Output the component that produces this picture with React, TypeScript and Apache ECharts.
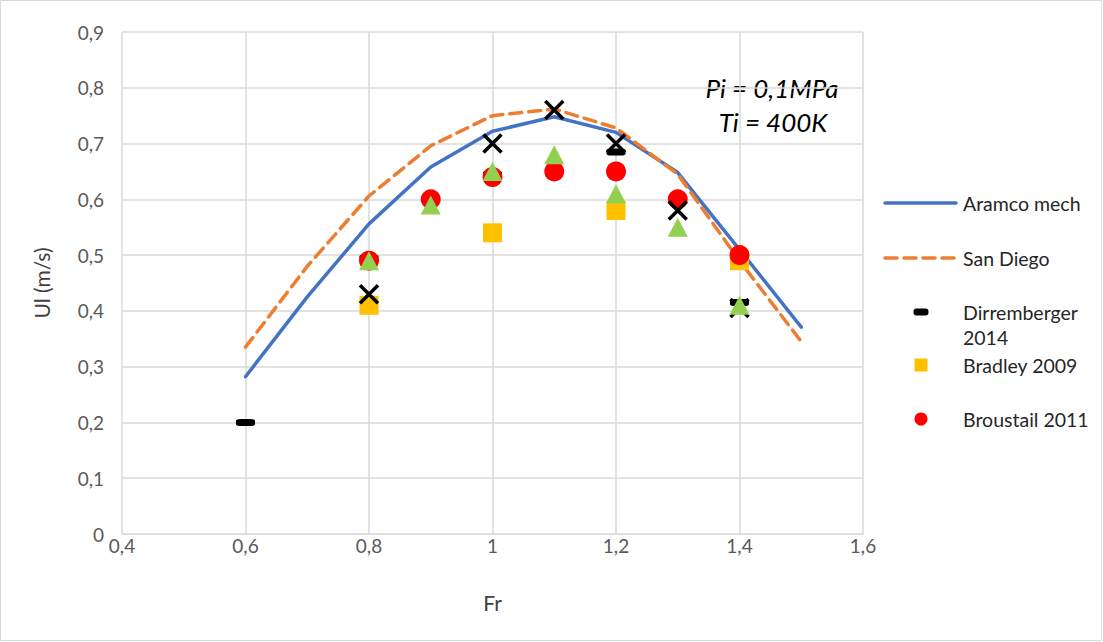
import React, { useEffect, useRef } from "react";
import * as echarts from "echarts";

const frLine = [0.6, 0.7, 0.8, 0.9, 1.0, 1.1, 1.2, 1.3, 1.4, 1.5];
const aramco = [0.282, 0.425, 0.556, 0.658, 0.722, 0.748, 0.72, 0.648, 0.51, 0.371];
const sanDiego = [0.335, 0.48, 0.606, 0.696, 0.75, 0.762, 0.728, 0.645, 0.49, 0.345];

const dirrFr = [0.6, 0.8, 1.0, 1.2, 1.4];
const dirrUl = [0.2, 0.495, 0.645, 0.685, 0.415];

const bradFr = [0.8, 1.0, 1.2, 1.4];
const bradUl = [0.41, 0.54, 0.58, 0.49];

const brouFr = [0.8, 0.9, 1.0, 1.1, 1.2, 1.3, 1.4];
const brouUl = [0.49, 0.6, 0.64, 0.65, 0.65, 0.6, 0.5];

const crossFr = [0.8, 1.0, 1.1, 1.2, 1.3, 1.4];
const crossUl = [0.43, 0.7, 0.76, 0.7, 0.58, 0.405];

const triFr = [0.8, 0.9, 1.0, 1.1, 1.2, 1.3, 1.4];
const triUl = [0.49, 0.59, 0.65, 0.68, 0.61, 0.55, 0.41];

const xTicks = { min: 0.4, max: 1.6, interval: 0.2 };
const yTicks = { min: 0, max: 0.9, interval: 0.1 };

const zip = (a: number[], b: number[]) => a.map((v, i) => [v, b[i]]);
const fmt = (v: number) => String(+v.toFixed(1)).replace(".", ",");

const FONT = "Lato";
const GRID = "#D9D9D9";

export default function App() {
  const ref = useRef<HTMLDivElement>(null);
  useEffect(() => {
    document.body.style.margin = "0";
    const chart = echarts.init(ref.current!, null, { renderer: "svg" });
    const legendX = 885;
    const legendMark = 921;
    const legendText = 963;
    const legendY = [203, 258, 312, 365, 419];
    const legendFont = { fontFamily: FONT, fontSize: 19.5, fill: "#262626", verticalAlign: "middle" };
    chart.setOption({
      animation: false,
      grid: { left: 122, right: 240, top: 32, bottom: 108 },
      xAxis: {
        type: "value",
        ...xTicks,
        name: "Fr",
        nameLocation: "middle",
        nameGap: 58,
        nameTextStyle: { fontFamily: FONT, fontSize: 21, color: "#404040" },
        axisLine: { show: true, lineStyle: { color: GRID, width: 1 } },
        axisTick: { show: false },
        axisLabel: { formatter: fmt, fontFamily: FONT, fontSize: 19, color: "#595959", margin: 2 },
        splitLine: { show: true, lineStyle: { color: GRID, width: 1.5 } },
      },
      yAxis: {
        type: "value",
        ...yTicks,
        name: "Ul (m/s)",
        nameLocation: "middle",
        nameGap: 70,
        nameRotate: 90,
        nameTextStyle: { fontFamily: FONT, fontSize: 21, color: "#404040" },
        axisLine: { show: false },
        axisTick: { show: false },
        axisLabel: { formatter: fmt, fontFamily: FONT, fontSize: 19, color: "#595959", margin: 18 },
        splitLine: { show: true, lineStyle: { color: GRID, width: 1.5 } },
      },
      series: [
        {
          name: "Aramco mech",
          type: "line",
          data: zip(frLine, aramco),
          showSymbol: false,
          lineStyle: { color: "#4472C4", width: 3.5, cap: "round" },
          z: 2,
        },
        {
          name: "San Diego",
          type: "line",
          data: zip(frLine, sanDiego),
          showSymbol: false,
          lineStyle: { color: "#ED7D31", width: 3.5, type: [12, 7], cap: "round" },
          z: 2,
        },
        {
          name: "Dirremberger 2014",
          type: "scatter",
          data: zip(dirrFr, dirrUl),
          symbol: "roundRect",
          symbolSize: [19, 7],
          itemStyle: { color: "#000000", opacity: 1 },
          z: 3,
        },
        {
          name: "Bradley 2009",
          type: "scatter",
          data: zip(bradFr, bradUl),
          symbol: "rect",
          symbolSize: 19,
          itemStyle: { color: "#FFC000", opacity: 1 },
          z: 4,
        },
        {
          name: "Broustail 2011",
          type: "scatter",
          data: zip(brouFr, brouUl),
          symbol: "circle",
          symbolSize: 20,
          itemStyle: { color: "#FF0000", opacity: 1 },
          z: 5,
        },
        {
          name: "×",
          type: "scatter",
          data: zip(crossFr, crossUl),
          symbol: "path://M0,0L10,10M10,0L0,10",
          symbolSize: 18,
          itemStyle: { color: "none", borderColor: "#000000", borderWidth: 3.5, opacity: 1 },
          z: 6,
        },
        {
          name: "▲",
          type: "scatter",
          data: zip(triFr, triUl),
          symbol: "triangle",
          symbolSize: [20, 19],
          itemStyle: { color: "#92D050", opacity: 1 },
          z: 7,
        },
      ],
      graphic: [
        {
          type: "rect",
          shape: { x: 0.5, y: 0.5, width: 1101, height: 640 },
          style: { fill: "none", stroke: GRID, lineWidth: 1 },
          silent: true,
        },
        {
          type: "text",
          x: 772,
          y: 88,
          style: {
            text: "Pi = 0,1MPa",
            fontFamily: FONT,
            fontStyle: "italic",
            fontSize: 26,
            fill: "#000",
            align: "center",
            verticalAlign: "middle",
          },
        },
        {
          type: "text",
          x: 773,
          y: 122,
          style: {
            text: "Ti = 400K",
            fontFamily: FONT,
            fontStyle: "italic",
            fontSize: 26,
            fill: "#000",
            align: "center",
            verticalAlign: "middle",
          },
        },
        // legend
        {
          type: "line",
          shape: { x1: legendX, y1: legendY[0], x2: legendX + 71, y2: legendY[0] },
          style: { stroke: "#4472C4", lineWidth: 3.5, lineCap: "round" },
        },
        {
          type: "line",
          shape: { x1: legendX, y1: legendY[1], x2: legendX + 71, y2: legendY[1] },
          style: { stroke: "#ED7D31", lineWidth: 3.5, lineDash: [12, 7], lineCap: "round" },
        },
        {
          type: "rect",
          shape: { x: legendMark - 7.5, y: legendY[2] - 3.5, width: 15, height: 7, r: 3 },
          style: { fill: "#000" },
        },
        {
          type: "rect",
          shape: { x: legendMark - 6.5, y: legendY[3] - 6.5, width: 13, height: 13 },
          style: { fill: "#FFC000" },
        },
        {
          type: "circle",
          shape: { cx: legendMark, cy: legendY[4], r: 6.5 },
          style: { fill: "#FF0000" },
        },
        ...[
          ["Aramco mech", 0],
          ["San Diego", 1],
          ["Dirremberger", 2],
          ["Bradley 2009", 3],
          ["Broustail 2011", 4],
        ].map(([t, i]) => ({
          type: "text",
          x: legendText,
          y: legendY[i as number],
          style: { text: t as string, ...legendFont },
        })),
        {
          type: "text",
          x: legendText,
          y: legendY[2] + 25,
          style: { text: "2014", ...legendFont },
        },
      ],
    });
    return () => chart.dispose();
  }, []);
  return <div ref={ref} style={{ width: 1103, height: 642 }} />;
}
